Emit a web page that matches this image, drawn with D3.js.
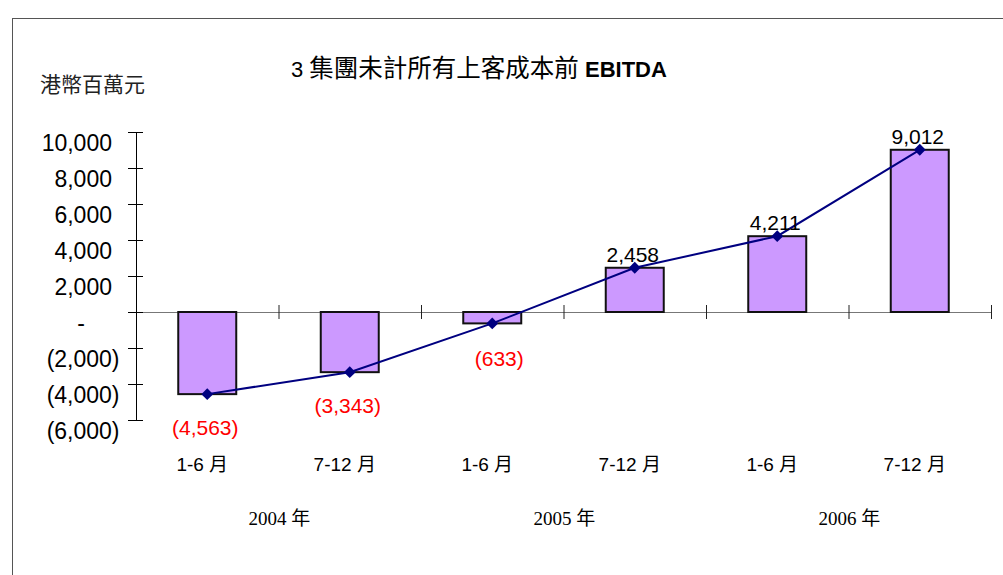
<!DOCTYPE html>
<html>
<head>
<meta charset="utf-8">
<script src="https://cdn.jsdelivr.net/npm/d3@7"></script>
<style>
    body { margin: 0; background: #fff; }
    svg { display: block; }
</style>
</head>
<body>
<div id="chart"></div>
<script>
// chart data
const halfYears = ["1-6 月", "7-12 月", "1-6 月", "7-12 月", "1-6 月", "7-12 月"];
const years = ["2004 年", "2005 年", "2006 年"];
const ebitda = [-4563, -3343, -633, 2458, 4211, 9012];
const yTicks = [-6000, -4000, -2000, 0, 2000, 4000, 6000, 8000, 10000];
const unitLabel = "港幣百萬元";
const titleLead = "3 ";
const titleCjk = "集團未計所有上客成本前";
const titleTail = " EBITDA";

const width = 1003, height = 575;
const sans = "Arial, 'Liberation Sans', 'Noto Sans CJK TC', sans-serif";
const serif = "'Times New Roman', 'Liberation Serif', 'Noto Sans CJK TC', serif";

// plot box
const plot = {left: 136, right: 991, top: 132, bottom: 420};

const svg = d3.select("#chart").append("svg")
    .attr("width", width)
    .attr("height", height);

svg.append("rect")
    .attr("width", width)
    .attr("height", height)
    .attr("fill", "#fff");

// outer frame (runs off the right and bottom edges)
svg.append("rect")
    .attr("x", 12.5)
    .attr("y", 18.5)
    .attr("width", 1100)
    .attr("height", 700)
    .attr("fill", "none")
    .attr("stroke", "#555")
    .attr("stroke-width", 1);

// scales
const idx = d3.range(ebitda.length);
const x = d3.scaleBand()
    .domain(idx)
    .range([plot.left, plot.right])
    .paddingInner(0.593)
    .paddingOuter(0.2965);
const xPos = d3.scaleLinear()
    .domain([0, ebitda.length])
    .range([plot.left, plot.right]);
const y = d3.scaleLinear()
    .domain([-6000, 10000])
    .range([plot.bottom, plot.top]);

const center = i => x(i) + x.bandwidth() / 2;
const fmt = d3.format(",");
const accounting = v => v === 0 ? "-" : v < 0 ? "(" + fmt(-v) + ")" : fmt(v);

// x axis at zero, with crossing tick marks on the category edges
const xAxis = svg.append("g")
    .attr("transform", "translate(0," + y(0) + ")")
    .call(d3.axisBottom(xPos).tickValues(d3.range(1, ebitda.length + 1)).tickFormat("").tickSizeOuter(0));
xAxis.select(".domain").attr("stroke", "#777").attr("stroke-width", 1.2);
xAxis.selectAll(".tick line")
    .attr("y1", -7)
    .attr("y2", 7)
    .attr("stroke", "#222");

// bars
svg.append("g").selectAll("rect")
    .data(ebitda)
    .join("rect")
    .attr("x", (d, i) => x(i))
    .attr("y", d => y(Math.max(0, d)))
    .attr("width", x.bandwidth())
    .attr("height", d => Math.abs(y(d) - y(0)))
    .attr("fill", "#CC99FF")
    .attr("stroke", "#111")
    .attr("stroke-width", 2);

// y axis
const yAxis = svg.append("g")
    .attr("transform", "translate(" + plot.left + ",0)")
    .call(d3.axisLeft(y).tickValues(yTicks).tickFormat(accounting).tickSizeOuter(0));
yAxis.select(".domain").attr("stroke", "#000").attr("stroke-width", 1);
yAxis.selectAll(".tick line")
    .attr("x1", 7)
    .attr("x2", -8)
    .attr("stroke", "#000");
yAxis.selectAll(".tick text")
    .attr("x", d => d > 0 ? -24 : d < 0 ? -16.5 : -51)
    .attr("y", 18)
    .attr("dy", 0)
    .attr("text-anchor", "end")
    .attr("fill", "#000")
    .style("font-family", sans)
    .style("font-size", "23px");

// trend line
const line = d3.line()
    .x((d, i) => center(i))
    .y(d => y(d));

svg.append("path")
    .datum(ebitda)
    .attr("d", line)
    .attr("fill", "none")
    .attr("stroke", "#000080")
    .attr("stroke-width", 2);

svg.append("g").selectAll("path")
    .data(ebitda)
    .join("path")
    .attr("d", d3.symbol(d3.symbolSquare, 70))
    .attr("transform", (d, i) => "translate(" + center(i) + "," + y(d) + ") rotate(45)")
    .attr("fill", "#000080");

// value labels (the (633) label sits a little off in the original)
const nudge = {2: [9, 2]};
svg.append("g").selectAll("text")
    .data(ebitda)
    .join("text")
    .attr("x", (d, i) => center(i) - 2 + (nudge[i] ? nudge[i][0] : 0))
    .attr("y", (d, i) => y(d) + (d < 0 ? 41 : -6) + (nudge[i] ? nudge[i][1] : 0))
    .attr("text-anchor", "middle")
    .attr("fill", d => d < 0 ? "#FF0000" : "#000")
    .style("font-family", sans)
    .style("font-size", "21px")
    .text(d => accounting(d));

// category labels
svg.append("g").selectAll("text")
    .data(halfYears)
    .join("text")
    .attr("x", (d, i) => center(i) - 5)
    .attr("y", 471)
    .attr("text-anchor", "middle")
    .attr("fill", "#000")
    .style("font-family", sans)
    .style("font-size", "19px")
    .text(d => d);

svg.append("g").selectAll("text")
    .data(years)
    .join("text")
    .attr("x", (d, i) => xPos(i * 2 + 1) + 1)
    .attr("y", 525)
    .attr("text-anchor", "middle")
    .attr("fill", "#000")
    .style("font-family", serif)
    .style("font-size", "19px")
    .text(d => d);

// unit label
svg.append("text")
    .attr("x", 40)
    .attr("y", 92)
    .attr("fill", "#222")
    .style("font-family", sans)
    .style("font-size", "21px")
    .text(unitLabel);

// title
const title = svg.append("text")
    .attr("x", 291)
    .attr("y", 77)
    .attr("fill", "#000")
    .style("font-family", sans)
    .style("font-size", "22px");
title.append("tspan").text(titleLead);
title.append("tspan").style("font-size", "24.5px").text(titleCjk);
title.append("tspan").style("font-weight", "bold").text(titleTail);
</script>
</body>
</html>
